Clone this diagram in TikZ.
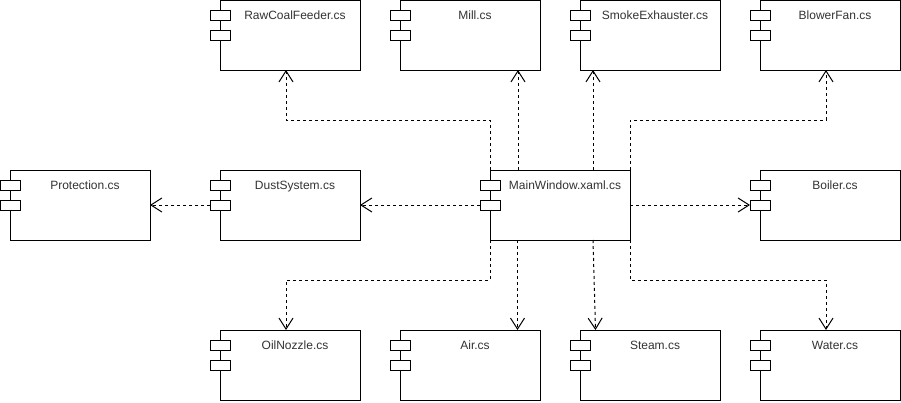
\documentclass[tikz,border=0pt]{standalone}
\usepackage{fontspec}
\setmainfont{Liberation Sans}
\usetikzlibrary{arrows.meta,calc}
\newcommand\mkcomp[4]{%
  \node[box] (#1) at (#2,#3) {};
  \node[tab] (#1t1) at ($(#1.north west)+(0,15)$) {};
  \node[tab] (#1t2) at ($(#1.north west)+(0,35)$) {};
  \node[ttl] (#1l) at ($(#1.north)+(5,19.5)$) {#4};
}
\begin{document}
\begin{tikzpicture}[x=1pt,y=-1pt,
  box/.style={draw=black, line width=1pt, fill=white, minimum width=140pt, minimum height=70pt, inner sep=0pt, outer sep=0pt, anchor=north west},
  tab/.style={draw=black, line width=1pt, fill=white, minimum width=20pt, minimum height=10pt, inner sep=0pt, outer sep=0pt},
  ttl/.style={font=\fontsize{12pt}{14pt}\selectfont, text=black!80, anchor=base, inner sep=0pt},
  dep/.style={draw=black, line width=1pt, dash pattern=on 3pt off 3pt, -{Straight Barb[length=11pt,width=14pt,line width=1pt]}}
]
\useasboundingbox[fill=white] (0,0) rectangle (901,402);
\mkcomp{raw}{220}{0}{RawCoalFeeder.cs}
\mkcomp{mill}{400}{0}{Mill.cs}
\mkcomp{smoke}{580}{0}{SmokeExhauster.cs}
\mkcomp{blow}{760}{0}{BlowerFan.cs}
\mkcomp{prot}{10}{170}{Protection.cs}
\mkcomp{dust}{220}{170}{DustSystem.cs}
\mkcomp{mw}{490}{170}{MainWindow.xaml.cs}
\mkcomp{boil}{760}{170}{Boiler.cs}
\mkcomp{oil}{220}{330}{OilNozzle.cs}
\mkcomp{air}{400}{330}{Air.cs}
\mkcomp{steam}{580}{330}{Steam.cs}
\mkcomp{water}{760}{330}{Water.cs}

\coordinate (mA) at ($(mw.north west)+(28,0)$);
\coordinate (mS) at ($(mw.north west)+(103,0)$);
\coordinate (bA) at ($(mw.south west)+(27.5,0)$);
\coordinate (bS) at ($(mw.south west)+(103,0)$);
\coordinate (eS) at ($(steam.north west)+(15.5,0)$);

\draw[dep] (mw.north west) -- ++(0,-50) -| ($(raw.south)+(-4,0)$);
\draw[dep] (mA) -- (mA |- mill.south);
\draw[dep] (mS) -- (mS |- smoke.south);
\draw[dep] (mw.north east) -- ++(0,-50) -| ($(blow.south)+(-4,0)$);
\draw[dep] (mw.east) -- (boilt2.west);
\draw[dep] (mwt2.west) -- (dust.east);
\draw[dep] (dustt2.west) -- (prot.east);
\draw[dep] (mw.south west) -- ++(0,40) -| ($(oil.north)+(-4,0)$);
\draw[dep] (bA) -- (bA |- air.north);
\draw[dep] (bS) -- (eS);
\draw[dep] (mw.south east) -- ++(0,40) -| ($(water.north)+(-4,0)$);
\end{tikzpicture}
\end{document}
